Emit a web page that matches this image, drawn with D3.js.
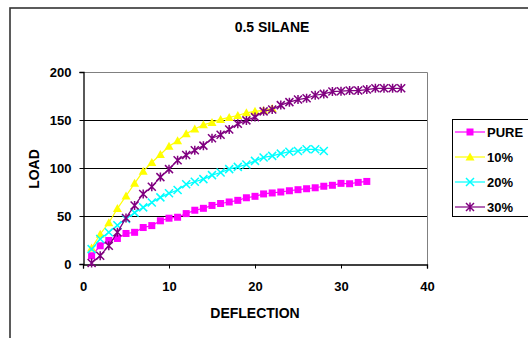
<!DOCTYPE html>
<html>
<head>
<meta charset="utf-8">
<script src="https://cdn.jsdelivr.net/npm/d3@7"></script>
<style>
  body { margin: 0; background: #fff; }
  svg text { font-family: "Liberation Sans", Arial, sans-serif; font-weight: bold; }
</style>
</head>
<body>
<div class="top"></div>
<script>
// deflection values 1..n for each series
const pure = [8.6,19,24.5,26.6,31.8,33,38,40,45,47.7,48.7,52.5,56,58,61,63,64.6,66.3,69,70.5,73,74,75,76.3,77.4,78.4,79.4,81,82,84,83.6,85,86];
const p10 = [16.6,31,43,57.7,70.8,84,96.7,105.7,114,122.6,128.5,135.7,140.6,145,147.5,150.6,152.7,154.7,157.5,159,160,162];
const p20 = [15.5,26,33,40.4,47,53.5,59,64,69.4,73.6,77,83,85.7,88.4,92.6,95.3,98.8,101.2,103.6,107.4,111,112.6,115,117,117.8,119.5,119.5,117.8];
const p30 = [1,8.6,19,33,48,61,73,80.5,90.5,98.8,108,113.6,118.5,123.3,131,134.7,140.2,146,149.6,153,159,161,165.5,168.6,171.3,172.7,175.8,177.2,179.6,180,180.7,180.7,181.7,183,183,183,183];
const seriesNames = ['PURE','10%','20%','30%'];
const xTicks = [0,10,20,30,40];
const yTicks = [0,50,100,150,200];

const series = [
  {name: seriesNames[0], values: pure, color: '#FF00FF', marker: 'square'},
  {name: seriesNames[1], values: p10, color: '#FFFF00', marker: 'triangle'},
  {name: seriesNames[2], values: p20, color: '#00FFFF', marker: 'cross'},
  {name: seriesNames[3], values: p30, color: '#800080', marker: 'star'}
];

const W = 528, H = 338;
const svg = d3.select('.top').append('svg').attr('width', W).attr('height', H);

// outer chart border
svg.append('rect')
  .attr('x', 10).attr('y', 8).attr('width', 540).attr('height', 360)
  .attr('fill', '#fff').attr('stroke', '#333').attr('stroke-width', 1.6);

const plot = {left: 83, right: 427, top: 72, bottom: 264};
const x = d3.scaleLinear().domain([0, 40]).range([plot.left, plot.right]);
const y = d3.scaleLinear().domain([0, 200]).range([plot.bottom, plot.top]);

// title
svg.append('text').attr('x', 272).attr('y', 32).attr('text-anchor', 'middle')
  .style('font-size', '14px').text('0.5 SILANE');

// plot frame (top/right gray)
svg.append('path')
  .attr('d', `M${plot.left},${plot.top + 0.5}H${plot.right + 0.5}V${plot.bottom}`)
  .attr('fill', 'none').attr('stroke', '#808080').attr('stroke-width', 1);

// gridlines
svg.append('g').selectAll('line').data(yTicks.filter(d => d > 0 && d < 200))
  .join('line')
    .attr('x1', plot.left).attr('x2', plot.right)
    .attr('y1', d => Math.round(y(d)) + 0.5).attr('y2', d => Math.round(y(d)) + 0.5)
    .attr('stroke', '#000').attr('stroke-width', 1);

// axes
const xAxis = svg.append('g').attr('transform', `translate(0,${plot.bottom + 0.5})`)
  .call(d3.axisBottom(x).tickValues(xTicks).tickSize(4).tickPadding(13));
const yAxis = svg.append('g').attr('transform', `translate(${plot.left + 0.5},0)`)
  .call(d3.axisLeft(y).tickValues(yTicks).tickSize(4).tickPadding(8));
[xAxis, yAxis].forEach(a => {
  a.select('.domain').attr('stroke', '#000').attr('stroke-width', 1.3);
  a.selectAll('.tick line').attr('stroke', '#000');
  a.selectAll('.tick text').style('font-size', '13px').attr('fill', '#000')
    .style('font-family', '"Liberation Sans", Arial, sans-serif').style('font-weight', 'bold');
});

// axis titles
svg.append('text').attr('x', 255).attr('y', 318).attr('text-anchor', 'middle')
  .style('font-size', '14px').text('DEFLECTION');
svg.append('text').attr('transform', 'translate(39,169) rotate(-90)')
  .attr('text-anchor', 'middle').style('font-size', '14px').text('LOAD');

function drawMarker(g, type, color) {
  if (type === 'square') {
    g.append('rect').attr('x', -3.5).attr('y', -3.5).attr('width', 7).attr('height', 7).attr('fill', color);
  } else if (type === 'triangle') {
    g.append('path').attr('d', 'M0,-4.5L4.5,3.5L-4.5,3.5Z').attr('fill', color);
  } else if (type === 'cross') {
    g.append('path').attr('d', 'M-4,-4L4,4M-4,4L4,-4').attr('stroke', color).attr('stroke-width', 1.5);
  } else {
    g.append('path').attr('d', 'M-4,-4L4,4M-4,4L4,-4M0,-4.5V4.5').attr('stroke', color).attr('stroke-width', 1.5);
  }
}

const line = d3.line().x((d, i) => x(i + 1)).y(d => y(d));

series.forEach(s => {
  const g = svg.append('g');
  g.append('path').datum(s.values).attr('d', line)
    .attr('fill', 'none').attr('stroke', s.color).attr('stroke-width', 1.2);
  g.selectAll('g').data(s.values).join('g')
    .attr('transform', (d, i) => `translate(${x(i + 1)},${y(d)})`)
    .each(function() { drawMarker(d3.select(this), s.marker, s.color); });
});

// legend
const legend = svg.append('g');
legend.append('rect').attr('x', 452.5).attr('y', 119.5).attr('width', 100).attr('height', 97)
  .attr('fill', '#fff').attr('stroke', '#000').attr('stroke-width', 1);
const ly = d3.scalePoint().domain(seriesNames).range([132, 207]);
series.forEach(s => {
  const e = legend.append('g').attr('transform', `translate(0,${ly(s.name)})`);
  e.append('line').attr('x1', 455).attr('x2', 485).attr('stroke', s.color).attr('stroke-width', 1.2);
  const m = e.append('g').attr('transform', 'translate(470,0)');
  drawMarker(m, s.marker, s.color);
  e.append('text').attr('x', 487).attr('y', 5).style('font-size', '13px').text(s.name);
});
</script>
</body>
</html>
